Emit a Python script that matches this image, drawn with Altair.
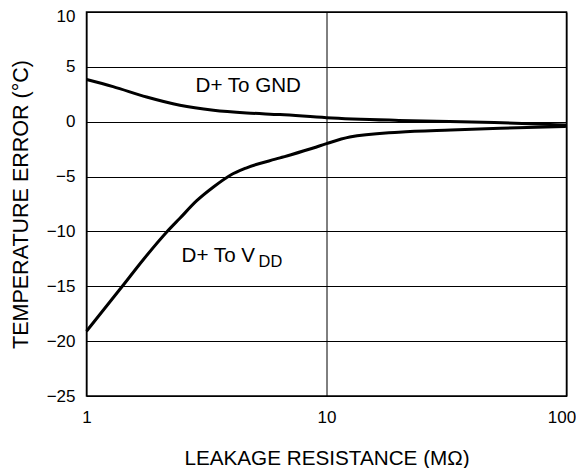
import altair as alt
import pandas as pd

# Data
gnd_x = [1, 1.29, 1.78, 2.45, 3.38, 4.65, 6.4, 10, 20, 50, 100]
gnd_y = [3.85, 3.2, 2.25, 1.5, 1.05, 0.8, 0.65, 0.37, 0.12, -0.08, -0.3]

vdd_x = [1, 1.41, 1.72, 2.16, 2.45, 2.88, 3.38, 3.96, 4.65, 6.4, 8.81, 10, 12.5, 20, 33, 53, 100]
vdd_y = [-19.1, -15.0, -12.6, -10.05, -8.8, -7.2, -5.95, -4.9, -4.2, -3.3, -2.4, -2.0, -1.4, -0.95, -0.75, -0.6, -0.42]

x_ticks = [1, 10, 100]
y_ticks = [-25, -20, -15, -10, -5, 0, 5, 10]

# annotation labels (data coordinates)
gnd_lbl = ["D+ To GND"]
gnd_lbl_x = [4.72]
gnd_lbl_y = [2.71]
vdd_lbl = ["D+ To V"]
vdd_lbl_x = [2.49]
vdd_lbl_y = [-12.79]
sub_text = ["DD"]
sub_x = [5.21]
sub_y = [-13.24]

df = pd.DataFrame(
    {
        "r": gnd_x + vdd_x,
        "err": gnd_y + vdd_y,
        "series": ["GND"] * len(gnd_x) + ["VDD"] * len(vdd_x),
    }
)
gnd_df = pd.DataFrame({"t": gnd_lbl, "r": gnd_lbl_x, "err": gnd_lbl_y})
vdd_df = pd.DataFrame({"t": vdd_lbl, "r": vdd_lbl_x, "err": vdd_lbl_y})
sub_df = pd.DataFrame({"t": sub_text, "r": sub_x, "err": sub_y})

FONT = "Liberation Sans"

xscale = alt.Scale(type="log", domain=[1, 100], nice=False)
yscale = alt.Scale(domain=[-25, 10], nice=False, zero=False)

minus_expr = "datum.value < 0 ? '\u2212' + abs(datum.value) : '' + datum.value"

x_axis = alt.Axis(
    values=x_ticks,
    format="d",
    grid=True,
    gridColor="black",
    gridWidth=1,
    gridOpacity=1,
    domain=False,
    ticks=False,
    tickSize=0,
    labelPadding=13,
    labelFontSize=17,
    labelFont=FONT,
    labelColor="black",
    labelFlush=False,
    labelOffset={"condition": {"test": "datum.value == 100", "value": -5}, "value": 0},
    title="LEAKAGE RESISTANCE (MΩ)",
    titleFont=FONT,
    titleFontSize=20.7,
    titleFontWeight="normal",
    titleColor="black",
    titleBaseline="alphabetic",
    titleY=68,
)
y_axis = alt.Axis(
    values=y_ticks,
    labelExpr=minus_expr,
    grid=True,
    gridColor="black",
    gridWidth=1,
    gridOpacity=1,
    domain=False,
    ticks=False,
    tickSize=0,
    labelPadding=11.5,
    labelFontSize=17,
    labelFont=FONT,
    labelColor="black",
    labelFlush=False,
    labelOffset={"condition": {"test": "datum.value == 10", "value": 4.5}, "value": 0},
    title="TEMPERATURE ERROR (°C)",
    titleFont=FONT,
    titleFontSize=21.5,
    titleFontWeight="normal",
    titleColor="black",
    titleAngle=270,
    titleBaseline="alphabetic",
    titleX=-59.5,
    titleY=192,
)

lines = (
    alt.Chart(df)
    .mark_line(color="black", strokeWidth=3, interpolate="monotone")
    .encode(
        x=alt.X("r:Q", scale=xscale, axis=x_axis),
        y=alt.Y("err:Q", scale=yscale, axis=y_axis),
        detail="series:N",
    )
)

labels_gnd = (
    alt.Chart(gnd_df)
    .mark_text(font=FONT, fontSize=20.6, color="black", align="center", baseline="alphabetic")
    .encode(x=alt.X("r:Q", scale=xscale), y=alt.Y("err:Q", scale=yscale), text="t:N")
)
labels_vdd = (
    alt.Chart(vdd_df)
    .mark_text(font=FONT, fontSize=20.6, color="black", align="left", baseline="alphabetic")
    .encode(x=alt.X("r:Q", scale=xscale), y=alt.Y("err:Q", scale=yscale), text="t:N")
)
labels_sub = (
    alt.Chart(sub_df)
    .mark_text(font=FONT, fontSize=16.4, color="black", align="left", baseline="alphabetic")
    .encode(x=alt.X("r:Q", scale=xscale), y=alt.Y("err:Q", scale=yscale), text="t:N")
)

chart = (
    alt.layer(lines, labels_gnd, labels_vdd, labels_sub)
    .properties(
        width=480,
        height=384,
        autosize=alt.AutoSizeParams(type="none"),
        padding={"left": 78.5, "top": 4, "right": 9.5, "bottom": 72},
        background="white",
    )
    .configure_view(stroke="black", strokeWidth=1.5)
)

chart.save("out.html", embed_options={"renderer": "svg", "actions": False})
